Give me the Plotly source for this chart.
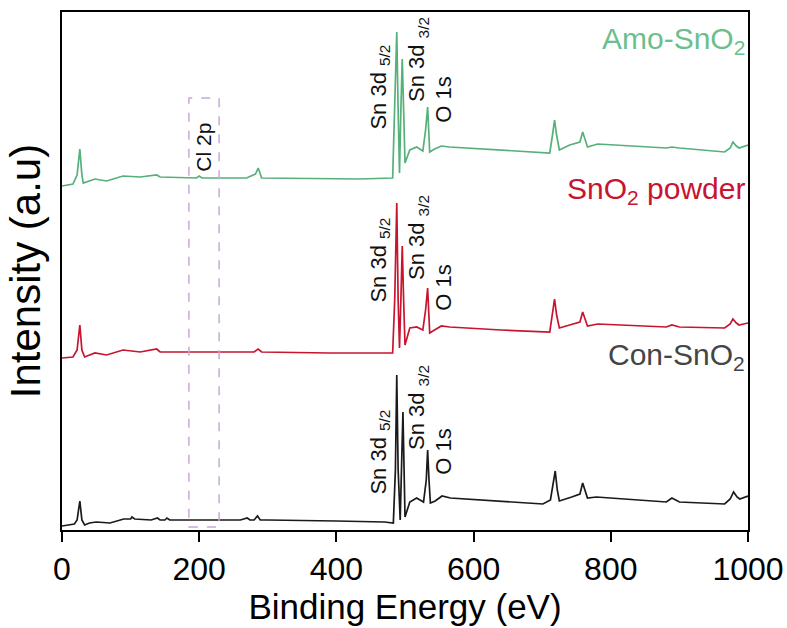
import plotly.graph_objects as go

# ---- data (Binding energy in eV, intensity in arbitrary units) ----
con_x = [0, 10, 18, 22, 26, 29, 33, 40, 50, 70, 80, 90, 100, 102, 106, 130, 139, 143, 150, 153, 157,
         200, 260, 270, 274, 280, 285, 289, 300, 400, 470, 483, 486, 488, 490, 493, 495, 497, 500, 507,
         517, 527, 531, 533, 535, 537, 544, 554, 566, 640, 701, 712, 716, 719, 722, 725, 743, 755, 759,
         763, 766, 779, 881, 889, 900, 966, 974, 979, 984, 988, 1000]
con_y = [4, 5, 6, 10, 29, 10, 5, 7, 8, 7, 9, 11, 11, 13, 11, 10, 12, 10, 10, 12, 10,
         10, 10, 12, 10, 10, 14, 10, 10, 9, 8, 7, 60, 155, 60, 10, 60, 118, 13, 28,
         32, 28, 50, 80, 50, 27, 29, 34, 32, 29, 26, 30, 45, 59, 40, 29, 33, 36, 47,
         37, 32, 33, 28, 32, 28, 26, 31, 38, 33, 31, 34]

pow_x = [0, 16, 22, 26, 29, 33, 48, 65, 89, 114, 138, 143, 200, 280, 286, 291, 390, 434, 482, 485,
         488, 490, 492, 494, 496, 498, 500, 507, 517, 526, 530, 533, 536, 543, 553, 565, 640, 711, 715,
         718, 721, 725, 740, 755, 759, 763, 766, 781, 881, 889, 900, 966, 974, 978, 983, 987, 1000]
pow_y = [172, 173, 180, 205, 180, 173, 177, 175, 180, 178, 181, 178, 178, 178, 181, 178, 177, 177, 177, 230,
         327, 230, 182, 230, 284, 230, 185, 202, 203, 200, 220, 242, 197, 200, 204, 203, 200, 198, 215,
         231, 215, 202, 205, 208, 218, 210, 204, 206, 203, 205, 203, 202, 206, 211, 207, 205, 207]

amo_x = [0, 16, 22, 26, 29, 31, 48, 65, 89, 114, 138, 143, 196, 200, 204, 269, 282, 286, 291, 390, 434,
         482, 485, 488, 490, 492, 494, 496, 498, 500, 507, 517, 526, 530, 533, 536, 543, 553, 565, 640,
         711, 715, 718, 721, 725, 740, 755, 759, 763, 766, 781, 881, 889, 900, 966, 974, 978, 983, 987, 1000]
amo_y = [344, 346, 355, 381, 355, 347, 351, 349, 354, 353, 355, 353, 352, 354, 352, 352, 356, 362, 352, 351, 351,
         352, 420, 498, 420, 357, 420, 471, 420, 367, 380, 383, 379, 400, 423, 378, 381, 384, 383, 380,
         377, 395, 410, 395, 380, 385, 388, 398, 390, 383, 386, 382, 383, 382, 378, 382, 388, 384, 382, 385]

series_names = ["Con-SnO<sub>2</sub>", "SnO<sub>2</sub> powder", "Amo-SnO<sub>2</sub>"]
series_colors = ["#1a1a1a", "#c8142f", "#55b07a"]
label_colors = ["#454545", "#c8142f", "#6cbf8c"]
label_y = [174, 340, 490]

peak_labels = ["Sn 3d <sub>5/2</sub>", "Sn 3d <sub>3/2</sub>", "O 1s"]
peak_x = [463, 519, 555]
peak_y = [[78, 122, 78], [270, 292, 242], [443, 470, 430]]

cl_box_x = [185, 229]
cl_box_y = [3, 432]
cl_label = "Cl 2p"
cl_label_pos = [205, 383]

x_ticks = [0, 200, 400, 600, 800, 1000]

FONT = "Liberation Sans Narrow, Arial Narrow, Liberation Sans, Arial, sans-serif"

fig = go.Figure()
for xs, ys, name, col in zip([con_x, pow_x, amo_x], [con_y, pow_y, amo_y], series_names, series_colors):
    fig.add_trace(go.Scatter(x=xs, y=ys, mode="lines", name=name,
                             line=dict(color=col, width=1.7), showlegend=False))

# sample labels
for name, col, ly in zip(series_names, label_colors, label_y):
    fig.add_annotation(x=1, xref="paper", y=ly, yref="y", text=name, showarrow=False,
                       xanchor="right", yanchor="middle", xshift=-1,
                       font=dict(family=FONT, size=30, color=col))

# peak labels
for row in peak_y:
    for lab, px, py in zip(peak_labels, peak_x, row):
        fig.add_annotation(x=px, y=py, text=lab, showarrow=False, textangle=-90,
                           xanchor="center", yanchor="middle",
                           font=dict(family=FONT, size=22, color="#111"))

# Cl 2p dashed box
fig.add_shape(type="rect", x0=cl_box_x[0], x1=cl_box_x[1], y0=cl_box_y[0], y1=cl_box_y[1],
              line=dict(color="#c7a8d8", width=1.5, dash="dash"))
fig.add_annotation(x=cl_label_pos[0], y=cl_label_pos[1], text=cl_label, showarrow=False, textangle=-90,
                   xanchor="center", yanchor="middle", font=dict(family=FONT, size=21, color="#111"))

fig.update_layout(
    width=787, height=628,
    margin=dict(l=62, r=39, t=12, b=98, autoexpand=False),
    paper_bgcolor="white", plot_bgcolor="white",
    font=dict(family=FONT, color="black"),
)
fig.update_xaxes(range=[0, 1000], tickvals=x_ticks, ticks="outside", ticklen=10, tickwidth=2,
                 tickcolor="black", showline=True, linewidth=2, linecolor="black", mirror=True,
                 showgrid=False, zeroline=False, tickfont=dict(size=32), automargin=False,
                 title=dict(text="Binding Energy (eV)", font=dict(size=35), standoff=4))
fig.update_yaxes(range=[0, 518], showticklabels=False, ticks="", showline=True, linewidth=2,
                 linecolor="black", mirror=True, showgrid=False, zeroline=False, automargin=False,
                 title=dict(text="Intensity (a.u)", font=dict(size=42), standoff=6))

fig.write_html("out.html")
